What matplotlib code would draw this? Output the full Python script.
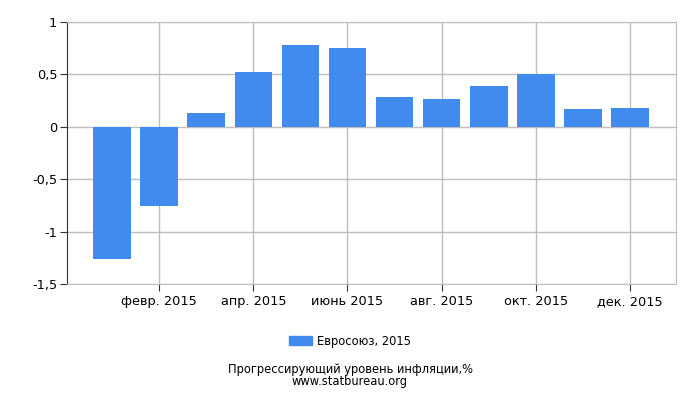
import matplotlib
matplotlib.use("Agg")
import matplotlib.pyplot as plt
from matplotlib.ticker import FuncFormatter
from matplotlib.patches import Patch

months = ["янв. 2015", "февр. 2015", "март 2015", "апр. 2015", "май 2015", "июнь 2015",
          "июль 2015", "авг. 2015", "сент. 2015", "окт. 2015", "нояб. 2015", "дек. 2015"]
values = [-1.26, -0.76, 0.13, 0.52, 0.78, 0.75, 0.28, 0.27, 0.39, 0.50, 0.17, 0.18]
series_name = "Евросоюз, 2015"
title = "Прогрессирующий уровень инфляции,%"
source = "www.statbureau.org"
yticks = [-1.5, -1, -0.5, 0, 0.5, 1]

color = "#418BEF"
grid_c = "#BDBDBD"

fig = plt.figure(figsize=(7, 4), dpi=100)
ax = fig.add_axes([67/700, 1-284/400, (676-67)/700, (284-22)/400])
x = list(range(len(values)))
ax.bar(x, values, width=0.8, color=color, zorder=3)
ax.set_xlim(-0.96, 11.98)
ax.set_ylim(-1.5, 1)
ax.set_yticks(yticks)
ax.yaxis.set_major_formatter(FuncFormatter(lambda v, p: ("%g" % v).replace(".", ",")))
ax.set_xticks(x[1::2])
ax.set_xticklabels(months[1::2])
ax.grid(True, color=grid_c, linewidth=1, zorder=0)
for s in ["top", "right", "bottom"]:
    ax.spines[s].set_color(grid_c)
ax.spines["left"].set_color("#333333")
ax.tick_params(axis="y", length=5, color="#333333", labelsize=9.3, pad=2)
ax.tick_params(axis="x", length=5, color="#333333", labelsize=9.3, pad=3)

fig.legend(handles=[Patch(color=color, label=series_name)], loc="center",
           bbox_to_anchor=(0.5, 1-341/400), frameon=False, fontsize=8.3,
           handlelength=2.0, handleheight=0.8, handletextpad=0.5)
fig.text(0.5, 1-370/400, title, ha="center", va="center", fontsize=8.3)
fig.text(0.5, 1-382/400, source, ha="center", va="center", fontsize=8.3)
fig.savefig("out.png", dpi=100)
